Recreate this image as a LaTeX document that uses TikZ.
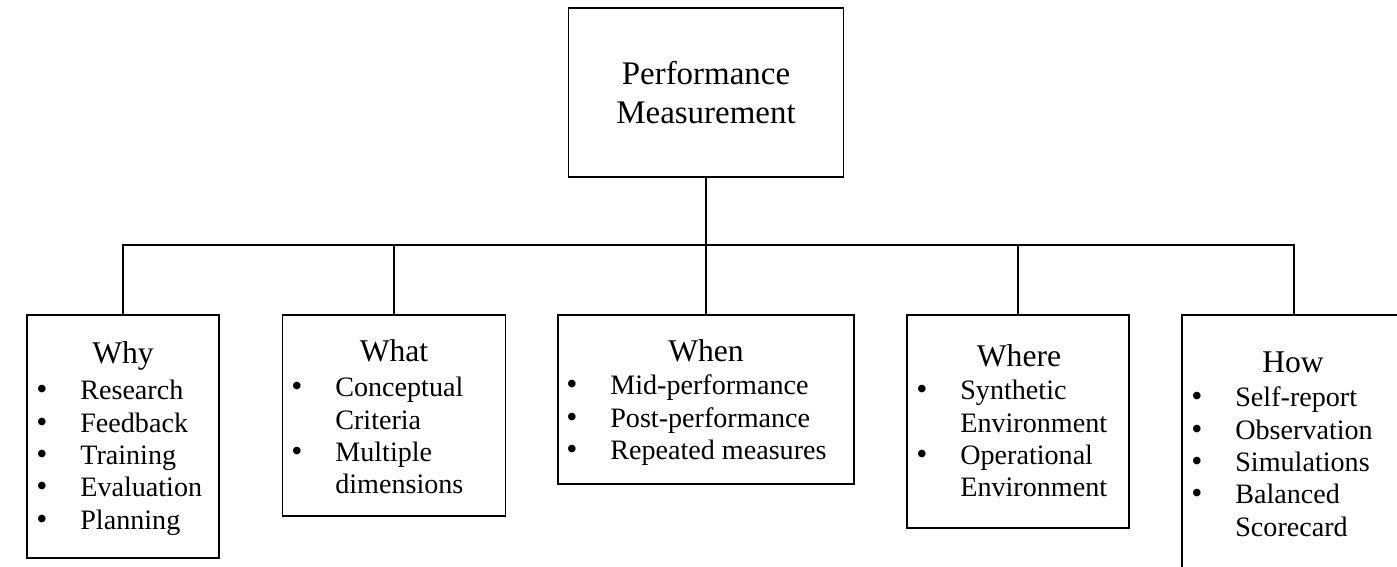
\documentclass[tikz,border=0pt]{standalone}
\usepackage{fontspec}
\setmainfont{Liberation Serif}

\newcommand{\blt}{{\fontsize{18}{18.4}\selectfont\textbullet}}

\tikzset{
  box/.style={draw, rectangle, line width=1.1pt, inner sep=0pt},
  link/.style={line width=1.1pt},
  head/.style={anchor=base, inner sep=0pt, font=\fontsize{18}{21}\selectfont},
  items/.style={anchor=base west, inner sep=0pt, font=\fontsize{16}{18.4}\selectfont},
}

\begin{document}
\begin{tikzpicture}[x=0.02cm, y=-0.02cm]
\clip (0,0) rectangle (1397,567);

% top box
\node[box, minimum width=5.5cm, minimum height=3.38cm, align=center,
      font=\fontsize{18.75}{22}\selectfont] (perf) at (706,92.5) {Performance\\Measurement};

% the five question boxes
\node[box, minimum width=3.84cm, minimum height=4.86cm] (why) at (123,436.5) {};
\node[box, minimum width=4.46cm, minimum height=4.02cm] (what) at (394,415.5) {};
\node[box, minimum width=5.92cm, minimum height=3.38cm] (when) at (706,399.5) {};
\node[box, minimum width=4.44cm, minimum height=4.26cm] (where) at (1018,421.5) {};
\node[box, minimum width=4.48cm, minimum height=6.1cm] (how) at (1294,467.5) {};

% tree lines
\coordinate (split) at (706,245);
\draw[link] (perf) -- (split);
\foreach \b in {why,what,when,where,how}
  \draw[link] (split) -| (\b);

% headings
\node[head] (whyhead) at (123,364) {Why};
\node[head] (whathead) at (394,362) {What};
\node[head] (whenhead) at (706,362) {When};
\node[head] (wherehead) at (1019,367) {Where};
\node[head] (howhead) at (1293,373) {How};

% bullet lists
\node[items] (whylist) at (36,400) {\begin{tabular}[t]{@{}p{0.88cm}@{}l@{}}
  \blt & Research\\
  \blt & Feedback\\
  \blt & Training\\
  \blt & Evaluation\\
  \blt & Planning
\end{tabular}};
\node[items] (whatlist) at (291,397) {\begin{tabular}[t]{@{}p{0.88cm}@{}l@{}}
  \blt & Conceptual\\
   & Criteria\\
  \blt & Multiple\\
   & dimensions
\end{tabular}};
\node[items] (whenlist) at (566,395) {\begin{tabular}[t]{@{}p{0.88cm}@{}l@{}}
  \blt & Mid-performance\\
  \blt & Post-performance\\
  \blt & Repeated measures
\end{tabular}};
\node[items] (wherelist) at (916,400) {\begin{tabular}[t]{@{}p{0.88cm}@{}l@{}}
  \blt & Synthetic\\
   & Environment\\
  \blt & Operational\\
   & Environment
\end{tabular}};
\node[items] (howlist) at (1191,407) {\begin{tabular}[t]{@{}p{0.88cm}@{}l@{}}
  \blt & Self-report\\
  \blt & Observation\\
  \blt & Simulations\\
  \blt & Balanced\\
   & Scorecard
\end{tabular}};
\end{tikzpicture}
\end{document}
